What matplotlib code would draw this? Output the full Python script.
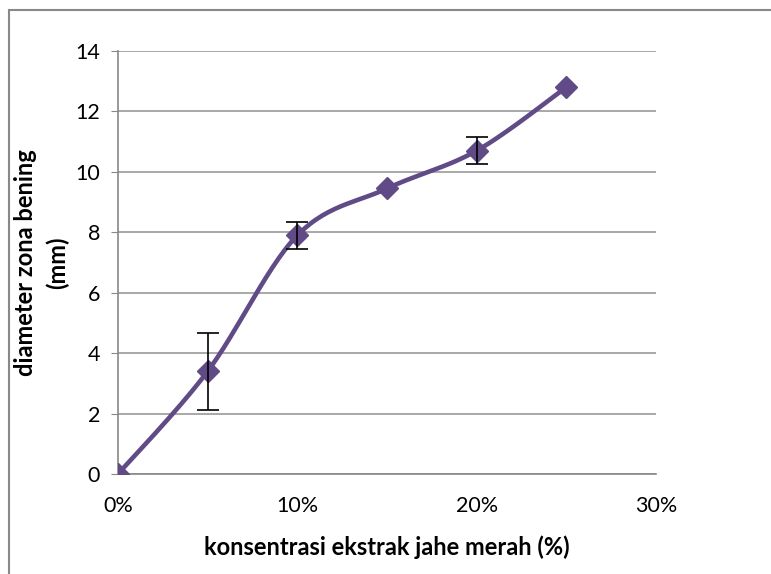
import matplotlib.pyplot as plt
import numpy as np
from matplotlib.patches import Rectangle

plt.rcParams['font.family'] = ['Lato', 'DejaVu Sans']

# data
konsentrasi = [0, 5, 10, 15, 20, 25]
diameter = [0, 3.4, 7.9, 9.45, 10.7, 12.8]
error = [0, 1.27, 0.45, 0, 0.45, 0]

color = '#614b87'


def smooth(x, y, n=30):
    # Excel-like smoothed line (Catmull-Rom as cubic bezier)
    x = np.asarray(x, float)
    y = np.asarray(y, float)
    px, py = [], []
    for i in range(len(x) - 1):
        x0, y0 = (x[i - 1], y[i - 1]) if i > 0 else (x[i], y[i])
        x3, y3 = (x[i + 2], y[i + 2]) if i + 2 < len(x) else (x[i + 1], y[i + 1])
        c1 = (x[i] + (x[i + 1] - x0) / 6, y[i] + (y[i + 1] - y0) / 6)
        c2 = (x[i + 1] - (x3 - x[i]) / 6, y[i + 1] - (y3 - y[i]) / 6)
        t = np.linspace(0, 1, n)
        bx = (1 - t) ** 3 * x[i] + 3 * (1 - t) ** 2 * t * c1[0] + 3 * (1 - t) * t ** 2 * c2[0] + t ** 3 * x[i + 1]
        by = (1 - t) ** 3 * y[i] + 3 * (1 - t) ** 2 * t * c1[1] + 3 * (1 - t) * t ** 2 * c2[1] + t ** 3 * y[i + 1]
        px.extend(bx)
        py.extend(by)
    return px, py


fig = plt.figure(figsize=(7.71, 5.74), dpi=100)
fig.patches.append(Rectangle((9 / 771, -0.1), 1.2, 1 - 10 / 574 + 0.1, transform=fig.transFigure,
                             fill=False, edgecolor='#888888', linewidth=1.5))
ax = fig.add_axes([118 / 771, 1 - 474 / 574, (656 - 118) / 771, (474 - 51) / 574])

sx, sy = smooth(konsentrasi, diameter)
ax.plot(sx, sy, color=color, linewidth=3.3, zorder=3)
ax.plot(konsentrasi, diameter, linestyle='none', marker='D', markersize=11, color=color, zorder=4)

# only draw error bars where there is an error
ex = [k for k, e in zip(konsentrasi, error) if e > 0]
ey = [d for d, e in zip(diameter, error) if e > 0]
ee = [e for e in error if e > 0]
ax.errorbar(ex, ey, yerr=ee, fmt='none', ecolor='black', elinewidth=1.2,
            capsize=8, capthick=1.2, zorder=5)

ax.set_xlim(0, 30)
ax.set_ylim(0, 14)
ax.set_xticks([0, 10, 20, 30])
ax.set_xticklabels(['0%', '10%', '20%', '30%'])
ax.set_yticks(range(0, 15, 2))
ax.grid(axis='y', color='#999999', linewidth=1.2)
ax.set_axisbelow(True)
for s in ['top', 'right']:
    ax.spines[s].set_visible(False)
for s in ['left', 'bottom']:
    ax.spines[s].set_color('#888888')
    ax.spines[s].set_linewidth(1.2)
ax.tick_params(axis='both', colors='#888888', labelcolor='black', labelsize=15.5, length=5)
ax.tick_params(axis='x', length=0, pad=16)
ax.tick_params(axis='y', pad=8)

ax.set_xlabel('konsentrasi ekstrak jahe merah (%)', fontsize=17, fontweight='bold', labelpad=14)
ax.set_ylabel('diameter zona bening\n(mm)', fontsize=17, fontweight='bold', labelpad=4, linespacing=1.45)

fig.savefig('out.png', dpi=100)
